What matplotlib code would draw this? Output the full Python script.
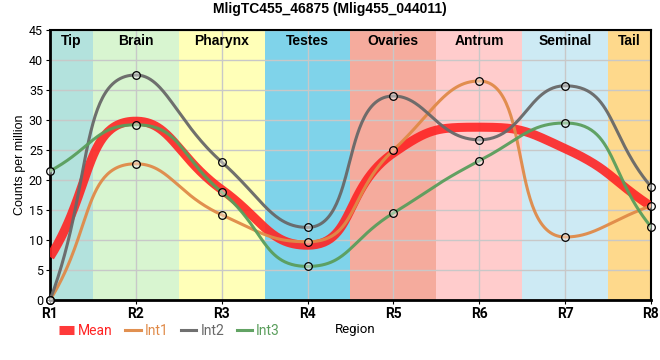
import numpy as np
import matplotlib
matplotlib.use("Agg")
import matplotlib.pyplot as plt

# Data
regions = ["R1", "R2", "R3", "R4", "R5", "R6", "R7", "R8"]
int1 = [0.0, 22.7, 14.2, 9.7, 25.0, 36.5, 10.5, 15.7]
int2 = [0.0, 37.5, 23.0, 12.1, 34.0, 26.7, 35.7, 18.9]
int3 = [21.5, 29.2, 18.0, 5.6, 14.5, 23.2, 29.5, 12.2]
mean = list(np.mean([int1, int2, int3], axis=0))

band_names = ["Tip", "Brain", "Pharynx", "Testes", "Ovaries", "Antrum", "Seminal", "Tail"]
band_colors = ["#b3e2dd", "#d8f5d0", "#ffffb8", "#7fd3ea", "#f5ab9d", "#ffcccc", "#cdeaf4", "#fed98c"]

# pixel scale of the plot area, used only to shape the smoothing
SX, SY = 601 / 7, 6.0


def smooth_curve(y, smooth=0.5, n=60):
    # bezier smoothing with control points clamped between neighbours
    P = np.column_stack([np.arange(len(y)) * SX, np.asarray(y, float) * SY])
    N = len(P)
    cps = []  # (cp_in, cp_out) for each point
    for i in range(N):
        cur = P[i]
        prv = P[i - 1] if i > 0 else cur
        nxt = P[i + 1] if i < N - 1 else cur
        v = nxt - prv
        d0 = np.hypot(*(cur - prv))
        d1 = np.hypot(*(nxt - cur))
        if i == 0:
            cps.append((cur, cur + smooth * (nxt - cur)))
            continue
        if i == N - 1:
            cps.append((cur - smooth * (cur - prv), cur))
            continue
        r = d1 / (d0 + d1)
        c1 = cur + v * smooth * r
        c1 = np.minimum(c1, np.maximum(nxt, cur))
        c1 = np.maximum(c1, np.minimum(nxt, cur))
        c0 = cur - (c1 - cur) * d0 / d1
        c0 = np.minimum(c0, np.maximum(prv, cur))
        c0 = np.maximum(c0, np.minimum(prv, cur))
        c1 = cur + (cur - c0) * d1 / d0
        cps.append((c0, c1))
    t = np.linspace(0, 1, n)[:, None]
    pts = []
    for i in range(N - 1):
        a, b, c, d = P[i], cps[i][1], cps[i + 1][0], P[i + 1]
        pts.append((1 - t) ** 3 * a + 3 * (1 - t) ** 2 * t * b + 3 * (1 - t) * t ** 2 * c + t ** 3 * d)
    pts = np.vstack(pts)
    return pts[:, 0] / SX, pts[:, 1] / SY


fig = plt.figure(figsize=(6.6, 3.6), dpi=100)
ax = fig.add_axes([50 / 660, 60 / 360, 601 / 660, 270 / 360])

x = np.arange(len(regions))
last = len(regions) - 1
for i, (name, c) in enumerate(zip(band_names, band_colors)):
    lo, hi = max(i - 0.5, 0), min(i + 0.5, last)
    ax.axvspan(lo, hi, color=c, lw=0, zorder=0)
    ax.text((lo + hi) / 2, 44.3, name, ha="center", va="top", fontsize=10, fontweight="bold",
            family="Liberation Sans", zorder=5)

ax.grid(True, color="#c8c8c8", lw=1, zorder=1)
ax.set_axisbelow(True)

mx, my = smooth_curve(mean)
ax.plot(mx, my, color="#ff2424", lw=6.5, alpha=0.9, solid_capstyle="butt", zorder=3, label="Mean")

series = [(int1, "#e08a48", "Int1"), (int2, "#686868", "Int2"), (int3, "#5a9e5c", "Int3")]
for vals, c, lab in series:
    sx, sy = smooth_curve(vals)
    ax.plot(sx, sy, color=c, lw=2.2, alpha=0.95, zorder=4, label=lab)
for vals, c, lab in series:
    ax.plot(x, vals, "o", ms=5.5, mfc=(1, 1, 1, 0.4), mec="black", mew=0.9, zorder=6, clip_on=False)

ax.set_xlim(0, last)
ax.set_ylim(0, 45)
ax.set_xticks(x)
ax.set_xticklabels(regions, fontsize=10, fontweight="bold", family="Roboto")
ax.set_yticks(range(0, 46, 5))
ax.tick_params(axis="y", labelsize=9, length=3, pad=2)
ax.tick_params(axis="x", length=3, pad=2)
for lab in ax.get_yticklabels():
    lab.set_family("Roboto")
ax.set_ylabel("Counts per million", fontsize=9, family="Liberation Sans", labelpad=2)

for side in ["left", "bottom"]:
    ax.spines[side].set_linewidth(2)
for side in ["top", "right"]:
    ax.spines[side].set_linewidth(1.5)

fig.text(0.5, 351 / 360, "MligTC455_46875 (Mlig455_044011)", fontsize=10, fontweight="bold",
         family="Liberation Sans", ha="center", va="center")

leg = ax.legend(loc="center left", bbox_to_anchor=(3 / 601, -31 / 270), ncol=4, frameon=False,
                handlelength=1.1, columnspacing=0.9, handletextpad=0.3, borderaxespad=0,
                prop={"family": "Roboto", "size": 10})
for txt, line in zip(leg.get_texts(), leg.get_lines()):
    txt.set_color(line.get_color())
fig.text(335 / 660, 30 / 360, "Region", fontsize=9.5, family="Roboto", ha="left", va="center")

fig.savefig("out.png", dpi=100)
